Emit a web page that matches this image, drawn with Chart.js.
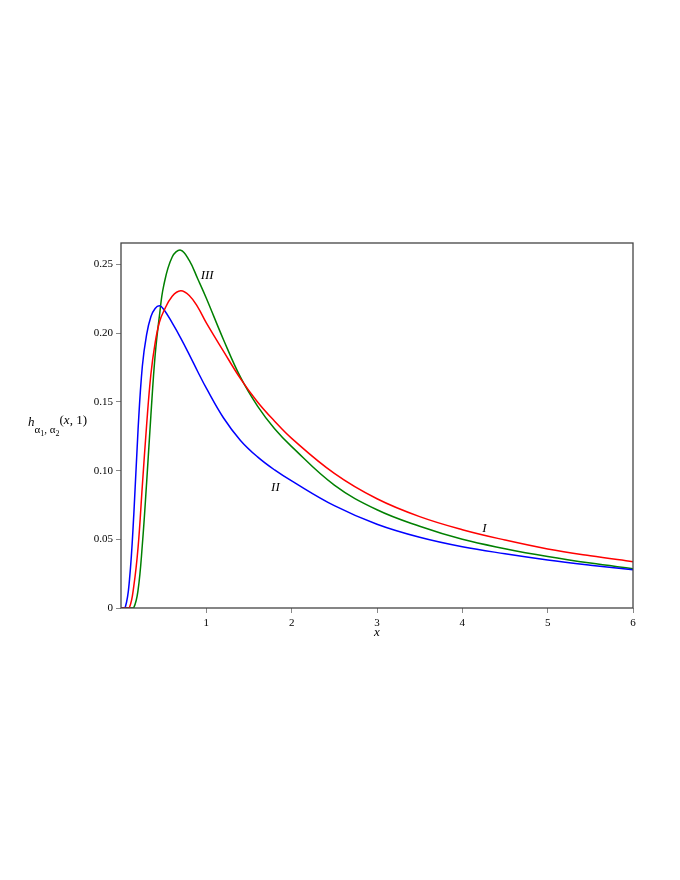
<!DOCTYPE html>
<html>
<head>
<meta charset="utf-8">
<script src="https://cdn.jsdelivr.net/npm/chart.js@4.4.1/dist/chart.umd.min.js"></script>
<style>
  html, body { margin: 0; padding: 0; background: #fff; }
  canvas { display: block; }
</style>
</head>
<body>
<canvas id="hChart" width="680" height="880"></canvas>
<script>
// x grid the curves were read at
const xs = [0, 0.05, 0.1, 0.15, 0.2, 0.25, 0.3, 0.35, 0.4, 0.45, 0.5, 0.6, 0.7, 0.8, 0.9, 1.0,
  1.2, 1.4, 1.6, 1.8, 2.0, 2.5, 3, 3.5, 4, 4.5, 5, 5.5, 6];

// curve I (red)
const curveI = [0, 0, 0.0005, 0.016, 0.044, 0.089, 0.133, 0.170, 0.193, 0.208, 0.216, 0.227, 0.231, 0.2275, 0.219, 0.2075,
  0.187, 0.167, 0.150, 0.136, 0.1235, 0.098, 0.0795, 0.0665, 0.0570, 0.0495, 0.0430, 0.0380, 0.0337];

// curve II (blue)
const curveII = [0, 0.0005, 0.021, 0.068, 0.130, 0.176, 0.199, 0.212, 0.218, 0.220, 0.2175, 0.2075, 0.1965, 0.1845, 0.172, 0.160,
  0.1385, 0.122, 0.110, 0.1005, 0.0925, 0.0745, 0.061, 0.0515, 0.0446, 0.0395, 0.0350, 0.0312, 0.0278];

// curve III (green)
const curveIII = [0, 0, 0, 0.0003, 0.013, 0.046, 0.091, 0.140, 0.184, 0.2125, 0.2345, 0.2555, 0.2605, 0.253, 0.2395, 0.2255,
  0.1955, 0.168, 0.147, 0.1305, 0.1175, 0.0895, 0.0715, 0.0595, 0.0500, 0.0432, 0.0375, 0.0327, 0.0286];

const xTicks = [1, 2, 3, 4, 5, 6];
const yTicks = [0, 0.05, 0.10, 0.15, 0.20, 0.25];

// curve name labels, placed in data coordinates
const curveLabels = [
  { text: 'I', x: 4.26, y: 0.058 },
  { text: 'II', x: 1.81, y: 0.088 },
  { text: 'III', x: 1.01, y: 0.242 }
];

const serif = '"Liberation Serif", "DejaVu Serif", serif';

const toPoints = (ys) => xs.map((x, i) => ({ x: x, y: ys[i] }));

const framePlugin = {
  id: 'frame',
  afterDatasetsDraw(chart) {
    const { ctx, chartArea: a, scales } = chart;
    ctx.save();
    ctx.strokeStyle = '#444';
    ctx.lineWidth = 1.3;
    ctx.strokeRect(a.left, a.top, a.right - a.left, a.bottom - a.top);

    // curve labels
    ctx.fillStyle = '#000';
    ctx.font = 'italic 13px ' + serif;
    ctx.textAlign = 'center';
    ctx.textBaseline = 'middle';
    curveLabels.forEach(l => {
      ctx.fillText(l.text, scales.x.getPixelForValue(l.x), scales.y.getPixelForValue(l.y));
    });

    // x axis title
    ctx.fillText('x', scales.x.getPixelForValue(3), 633);

    // y axis title: h_{α1,α2}(x, 1)
    ctx.textAlign = 'left';
    ctx.textBaseline = 'alphabetic';
    let px = 28;
    const base = 426;
    const put = (txt, font, dy) => {
      ctx.font = font;
      ctx.fillText(txt, px, base + dy);
      px += ctx.measureText(txt).width;
    };
    put('h', 'italic 13px ' + serif, 0);
    put('\u03B1', '11px ' + serif, 7);
    put('1', '8px ' + serif, 10);
    put(', ', '11px ' + serif, 7);
    put('\u03B1', '11px ' + serif, 7);
    put('2', '8px ' + serif, 10);
    put('(', '13px ' + serif, -2);
    put('x', 'italic 13px ' + serif, -2);
    put(', 1)', '13px ' + serif, -2);
    ctx.restore();
  }
};

new Chart(document.getElementById('hChart').getContext('2d'), {
  type: 'line',
  data: {
    datasets: [
      { label: 'I', data: toPoints(curveI), borderColor: '#ff0000' },
      { label: 'II', data: toPoints(curveII), borderColor: '#0000ff' },
      { label: 'III', data: toPoints(curveIII), borderColor: '#008000' }
    ]
  },
  options: {
    responsive: false,
    animation: false,
    events: [],
    layout: { padding: { left: 0, right: 47, top: 243, bottom: 232 } },
    elements: {
      point: { radius: 0 },
      line: { borderWidth: 1.5, tension: 0.4, fill: false }
    },
    plugins: {
      legend: { display: false },
      tooltip: { enabled: false }
    },
    scales: {
      x: {
        type: 'linear',
        min: 0,
        max: 6,
        afterFit: (s) => { s.height = 40; },
        afterBuildTicks: (s) => { s.ticks = xTicks.map(v => ({ value: v })); },
        grid: { drawOnChartArea: false, drawTicks: true, tickLength: 5, color: '#888' },
        border: { display: false },
        ticks: { color: '#000', font: { family: serif, size: 11 }, padding: 4, maxRotation: 0 }
      },
      y: {
        type: 'linear',
        min: 0,
        max: 0.2657,
        afterFit: (s) => { s.width = 121; },
        afterBuildTicks: (s) => { s.ticks = yTicks.map(v => ({ value: v })); },
        grid: { drawOnChartArea: false, drawTicks: true, tickLength: 5, color: '#888' },
        border: { display: false },
        ticks: {
          color: '#000',
          font: { family: serif, size: 11 },
          padding: 3,
          callback: (v) => v === 0 ? '0' : v.toFixed(2)
        }
      }
    }
  },
  plugins: [framePlugin]
});
</script>
</body>
</html>
